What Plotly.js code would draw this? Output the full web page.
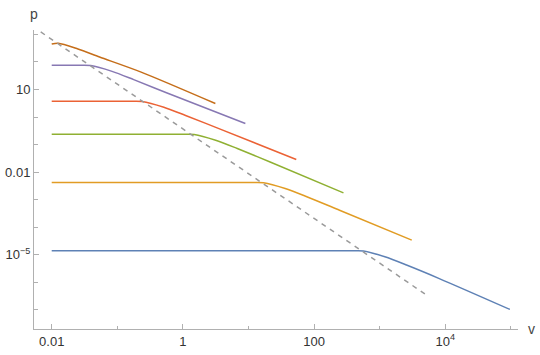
<!DOCTYPE html>
<html>
<head>
<meta charset="utf-8">
<script src="https://cdn.plot.ly/plotly-3.0.1.min.js"></script>
<style>html,body{margin:0;padding:0;background:#fff;}#chart{width:540px;height:355px;}</style>
</head>
<body>
<div id="chart"></div>
<script>
// Curves (v, p)
const v1 = [0.01, 400, 568, 1202, 2570, 8128, 96800];
const p1 = [1.41e-5, 1.41e-5, 1.38e-5, 8.5e-6, 4.27e-6, 1.38e-6, 1.05e-7];

const v2 = [0.01, 12, 17, 36.3, 77.6, 245, 3090];
const p2 = [4.27e-3, 4.27e-3, 4.17e-3, 2.57e-3, 1.29e-3, 4.17e-4, 3.42e-5];

const v3 = [0.01, 1.05, 1.49, 3.16, 6.76, 21.4, 281];
const p3 = [0.24, 0.24, 0.235, 0.145, 0.0724, 0.0234, 1.78e-3];

const v4 = [0.01, 0.17, 0.24, 0.513, 1.1, 3.47, 53.6];
const p4 = [3.77, 3.77, 3.68, 2.27, 1.14, 0.39, 0.0289];

const v5 = [0.01, 0.028, 0.0393, 0.0832, 0.178, 0.562, 8.97];
const p5 = [76, 76, 74, 45.7, 22.9, 7.6, 0.585];

const v6 = [0.01, 0.0126, 0.0251, 0.0537, 0.226, 3.13];
const p6 = [447, 479, 295, 151, 43.7, 3.1];

const vDash = [0.0068, 5500];
const pDash = [1230, 3.16e-7];

const xTickVals = [0.01, 1, 100, 1e4];
const xTickText = ['0.01', '1', '100', '10<sup>4</sup>'];
const xMinor = [0.1, 10, 1000, 1e5];
const yTickVals = [10, 0.01, 1e-5];
const yTickText = ['10', '0.01', '10<sup>\u22125</sup>'];
const yMinor = [1e-7, 1e-6, 1e-4, 1e-3, 0.1, 1, 100, 1000];

const colors = ['#5E81B5', '#E19C24', '#8FB032', '#EB6235', '#8778B3', '#C56E1A'];
const series = [[v1,p1],[v2,p2],[v3,p3],[v4,p4],[v5,p5],[v6,p6]];

const traces = series.map((s, i) => ({
  x: s[0], y: s[1], mode: 'lines', type: 'scatter',
  line: {color: colors[i], width: 1.5, shape: 'spline', smoothing: 0.8},
  hoverinfo: 'skip'
}));
traces.push({
  x: vDash, y: pDash, mode: 'lines', type: 'scatter',
  line: {color: '#9a9a9a', width: 1.5, dash: '5px,5px'}, hoverinfo: 'skip'
});

const axisCommon = {
  type: 'log', showgrid: false, zeroline: false,
  showline: true, linecolor: '#b0b0b0', linewidth: 1,
  ticks: 'inside', ticklen: 5, tickcolor: '#b0b0b0', tickwidth: 1,
  tickmode: 'array',
  tickfont: {family: 'Liberation Sans, Arial, sans-serif', size: 13, color: '#333'}
};

const layout = {
  width: 540, height: 355,
  margin: {l: 34, r: 22, t: 30, b: 26},
  paper_bgcolor: '#fff', plot_bgcolor: '#fff',
  showlegend: false,
  xaxis: Object.assign({}, axisCommon, {
    range: [-2.27, 5.11], tickvals: xTickVals, ticktext: xTickText,
    minor: {tickmode: 'array', tickvals: xMinor, ticks: 'inside', ticklen: 3, tickcolor: '#b0b0b0'}
  }),
  yaxis: Object.assign({}, axisCommon, {
    range: [-7.69, 3.16], tickvals: yTickVals, ticktext: yTickText,
    minor: {tickmode: 'array', tickvals: yMinor, ticks: 'inside', ticklen: 4, tickcolor: '#b0b0b0'}
  }),
  annotations: [
    {xref: 'paper', yref: 'paper', x: 0, y: 1, xanchor: 'center', yanchor: 'bottom', yshift: 6,
     text: 'p', showarrow: false, font: {family: 'Liberation Sans, Arial, sans-serif', size: 14, color: '#444'}},
    {xref: 'paper', yref: 'paper', x: 1, y: 0, xanchor: 'left', yanchor: 'middle', xshift: 8,
     text: 'v', showarrow: false, font: {family: 'Liberation Sans, Arial, sans-serif', size: 14, color: '#444'}}
  ]
};

Plotly.newPlot('chart', traces, layout, {staticPlot: true, displayModeBar: false});
</script>
</body>
</html>
